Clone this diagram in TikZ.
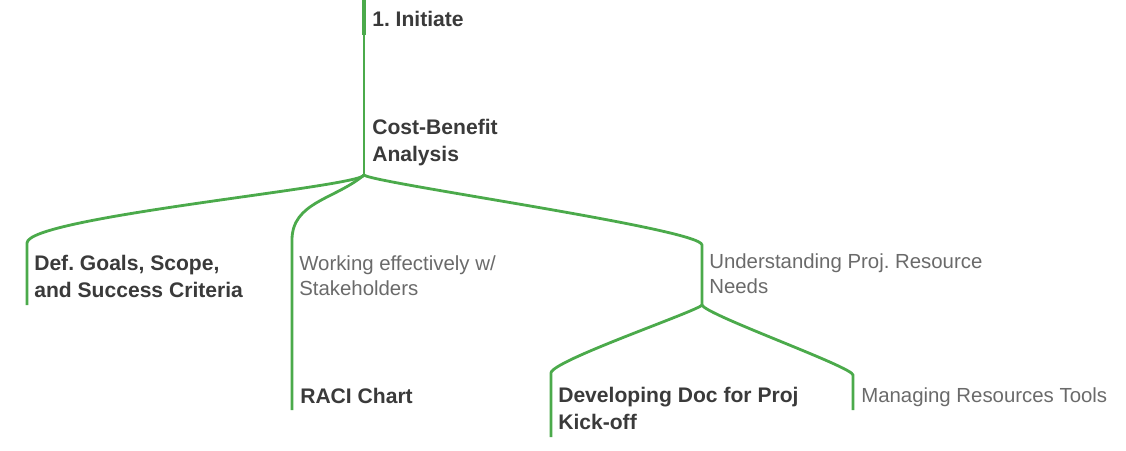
\documentclass[tikz,border=0pt]{standalone}
\usepackage{fontspec}
\setmainfont{Liberation Sans}
\frenchspacing
\usetikzlibrary{positioning}
\definecolor{branchgreen}{HTML}{4BAA4B}
\definecolor{textdark}{HTML}{3A3A3A}
\definecolor{textgray}{HTML}{6A6A6A}

\begin{document}
\begin{tikzpicture}[
    x=0.025cm, y=0.025cm,
    branch/.style={draw=branchgreen, line width=2pt},
    rootbar/.style={draw=branchgreen, line width=2.6pt},
    topic/.style={anchor=north west, inner sep=0pt, align=left, text=textdark, font=\fontsize{15}{19.2}\selectfont\bfseries},
    subtopic/.style={anchor=north west, inner sep=0pt, align=left, text=textgray, font=\fontsize{14.5}{17.8}\selectfont},
  ]
    \useasboundingbox (0,0) rectangle (1126,-450);

    % bar ends and forks
    \coordinate (top) at (364,0);
    \coordinate (rootend) at (364,-35);
    \coordinate (j1) at (364,-175);
    \coordinate (gtop) at (27,-243);
    \coordinate (gbot) at (27,-305);
    \coordinate (stop) at (292,-240);
    \coordinate (rbot) at (292,-410);
    \coordinate (ntop) at (702,-245);
    \coordinate (j2) at (702,-305);
    \coordinate (ktop) at (551,-373);
    \coordinate (kbot) at (551,-437);
    \coordinate (ttop) at (853,-375);
    \coordinate (tbot) at (853,-410);

    \node[topic] (root) at (372,-11) {1. Initiate};
    \node[topic] (cba) at (372,-119) {Cost-Benefit\\Analysis};
    \node[topic] (goals) at (34,-255) {Def. Goals, Scope,\\and Success Criteria};
    \node[subtopic] (stake) at (299,-255) {Working effectively w/\\Stakeholders};
    \node[topic] (raci) at (300,-388) {RACI Chart};
    \node[subtopic] (needs) at (709,-253) {Understanding Proj. Resource\\Needs};
    \node[topic] (kick) at (558,-387) {Developing Doc for Proj\\Kick-off};
    \node[subtopic] (tools) at (861,-387) {Managing Resources Tools};

    \draw[rootbar] (top) -- (rootend);
    \draw[branch] (rootend) -- (j1);
    \draw[branch] (j1) .. controls +(-3,-12) and +(0,26) .. (gtop) -- (gbot);
    \draw[branch] (j1) to[out=-140, in=90] (stop) -- (rbot);
    \draw[branch] (j1) .. controls +(8,-8) and +(0,16) .. (ntop) -- (j2);
    \draw[branch] (j2) .. controls +(-4,-6) and +(0,12) .. (ktop) -- (kbot);
    \draw[branch] (j2) .. controls +(4,-10) and +(0,8) .. (ttop) -- (tbot);
  \end{tikzpicture}
\end{document}
